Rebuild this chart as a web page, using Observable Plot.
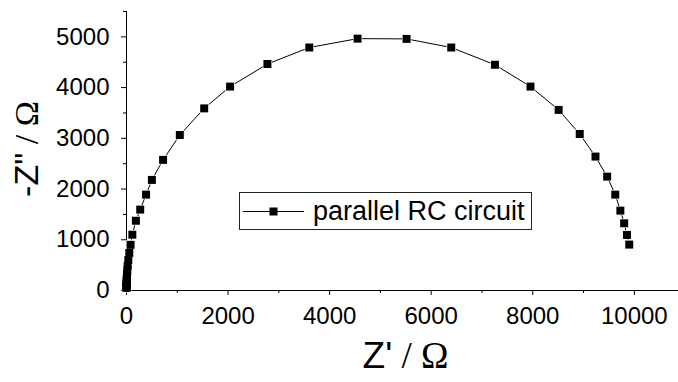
<!DOCTYPE html>
<html><head><meta charset="utf-8">
<script src="https://cdn.jsdelivr.net/npm/d3@7"></script>
<script src="https://cdn.jsdelivr.net/npm/@observablehq/plot@0.6"></script>
<style>
body{margin:0;background:#fff;}
#wrap{position:relative;width:678px;height:382px;font-family:"Liberation Sans",Arial,sans-serif;overflow:hidden;}
#legend{position:absolute;left:239px;top:192px;width:293px;height:38px;border:1px solid #222;box-sizing:border-box;background:#fff;display:flex;align-items:center;}
#legend svg{margin-left:3px;}
#legend span{font-size:27px;margin-left:8px;color:#000;white-space:nowrap;line-height:1;}
</style></head>
<body><div id="wrap"></div>
<script>
// Nyquist data: Z' (real) and -Z'' (imag), ohm
const zReal = [9900, 9855, 9800, 9725, 9625, 9465, 9235, 8925, 8510, 7955, 7255, 6395, 5515, 4550, 3600, 2775, 2040, 1530, 1050, 720, 500, 385, 270, 185, 115, 80, 55, 36, 24, 16, 11, 7, 4.6, 3, 2, 1.4, 0.9, 0.6, 0.4, 0.3];
const zImag = [905, 1095, 1325, 1575, 1890, 2245, 2640, 3085, 3560, 4020, 4450, 4790, 4960, 4965, 4790, 4465, 4020, 3590, 3065, 2575, 2180, 1890, 1595, 1375, 1100, 900, 740, 600, 490, 400, 325, 265, 215, 175, 143, 117, 96, 78, 64, 52];
const seriesName = "parallel RC circuit";
const xTitleParts = ["Z'", " / \u03A9"];
const yTitleParts = ["-Z\"", " / \u03A9"];
const xTicks = [0, 2000, 4000, 6000, 8000, 10000];
const xMinorTicks = [1000, 3000, 5000, 7000, 9000];
const yTicks = [0, 1000, 2000, 3000, 4000, 5000];
const yMinorTicks = [500, 1500, 2500, 3500, 4500, 5500];

const data = zReal.map((x, i) => ({x, y: zImag[i]}));
const xTitle = xTitleParts.join("");
const yTitle = yTitleParts.join("");

const chart = Plot.plot({
  width: 678, height: 382,
  marginLeft: 126, marginRight: 0, marginTop: 11, marginBottom: 92,
  x: {domain: [0, 10870]},
  y: {domain: [0, 5500]},
  style: {fontFamily: "'Liberation Sans', Arial, sans-serif", fontSize: "24px", color: "#000", background: "#fff"},
  marks: [
    Plot.axisX({ticks: xTicks, tickSize: 5, tickPadding: 11, tickFormat: d => String(d), label: null, fontSize: 24}),
    Plot.axisX({ticks: xMinorTicks, tickSize: 3, tickFormat: () => "", label: null}),
    Plot.axisY({ticks: yTicks, tickSize: 5, tickPadding: 12, tickFormat: d => String(d), label: null, fontSize: 24}),
    Plot.axisY({ticks: yMinorTicks, tickSize: 3, tickFormat: () => "", label: null}),
    Plot.ruleY([0], {stroke: "#000"}),
    Plot.ruleX([0], {stroke: "#000"}),
    Plot.line(data, {x: "x", y: "y", stroke: "#000", strokeWidth: 1}),
    Plot.dot(data, {x: "x", y: "y", symbol: "square", r: 5.2, fill: "#fff", stroke: null}),
    Plot.dot(data, {x: "x", y: "y", symbol: "square", r: 4.5, fill: "#000", stroke: null}),
    Plot.text([xTitle], {text: d => d, frameAnchor: "bottom", textAnchor: "middle", dx: 3, dy: 77, fontSize: 37, fill: "#000"}),
    Plot.text([yTitle], {text: d => d, frameAnchor: "left", textAnchor: "middle", dx: -99, dy: -2, rotate: -90, fontSize: 34, fill: "#000"})
  ]
});

// mixed fonts in axis titles: symbol part in serif
chart.querySelectorAll("text").forEach(t => {
  const s = t.textContent;
  const parts = s === xTitle ? xTitleParts : s === yTitle ? yTitleParts : null;
  if (!parts) return;
  t.textContent = "";
  const ns = "http://www.w3.org/2000/svg";
  const a = document.createElementNS(ns, "tspan");
  a.textContent = parts[0];
  const b = document.createElementNS(ns, "tspan");
  b.textContent = parts[1];
  b.setAttribute("font-family", "'Liberation Serif', 'Times New Roman', serif");
  t.appendChild(a); t.appendChild(b);
});

const wrap = document.getElementById("wrap");
wrap.appendChild(chart);

// legend
const lg = document.createElement("div");
lg.id = "legend";
const ns = "http://www.w3.org/2000/svg";
const sv = document.createElementNS(ns, "svg");
sv.setAttribute("width", 62); sv.setAttribute("height", 12);
const ln = document.createElementNS(ns, "line");
ln.setAttribute("x1", 0); ln.setAttribute("x2", 61); ln.setAttribute("y1", 6.5); ln.setAttribute("y2", 6.5);
ln.setAttribute("stroke", "#000"); ln.setAttribute("stroke-width", 1);
const rc = document.createElementNS(ns, "rect");
rc.setAttribute("x", 26.5); rc.setAttribute("y", 2.5); rc.setAttribute("width", 8); rc.setAttribute("height", 8); rc.setAttribute("fill", "#000");
sv.appendChild(ln); sv.appendChild(rc);
const tx = document.createElement("span");
tx.textContent = seriesName;
lg.appendChild(sv); lg.appendChild(tx);
wrap.appendChild(lg);
</script>
</body></html>
